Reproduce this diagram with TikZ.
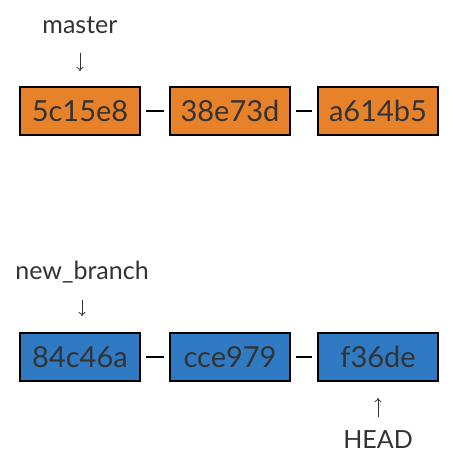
\documentclass[tikz,border=0pt]{standalone}
\usepackage{fontspec}
\setmainfont{Lato}
\usetikzlibrary{arrows.meta}
\definecolor{commitorange}{HTML}{E8822A}
\definecolor{commitblue}{HTML}{2F7AC3}
\definecolor{inktext}{HTML}{333333}
\begin{document}
\begin{tikzpicture}[x=1pt,y=-1pt,
  commit/.style={draw=black,line width=2pt,minimum width=120pt,minimum height=48pt,inner sep=0pt,text=inktext,font=\fontsize{29}{32}\selectfont},
  branchlbl/.style={inner sep=0pt,text=inktext,font=\fontsize{25}{28}\selectfont},
  link/.style={black,line width=2pt,shorten <=5pt,shorten >=5pt},
  pointer/.style={inktext,line width=0.8pt,-{To[length=4pt,width=7pt]}}]
\useasboundingbox (0,0) rectangle (452,462);
% master branch
\node [commit,fill=commitorange] (m1) at (80,111) {5c15e8};
\node [commit,fill=commitorange] (m2) at (230,111) {38e73d};
\node [commit,fill=commitorange] (m3) at (378,111) {a614b5};
\draw [link] (m1) -- (m2);
\draw [link] (m2) -- (m3);
\node [branchlbl] (master) at (80,25) {master};
\draw [pointer,shorten <=28pt,shorten >=15pt] (master.center) -- (m1);
% new branch
\node [commit,fill=commitblue] (n1) at (80,357) {84c46a};
\node [commit,fill=commitblue] (n2) at (230,357) {cce979};
\node [commit,fill=commitblue] (n3) at (378,357) {f36de};
\draw [link] (n1) -- (n2);
\draw [link] (n2) -- (n3);
\node [branchlbl] (newbranch) at (82,272) {new\_branch};
\draw [pointer,shorten <=28pt,shorten >=16pt] (newbranch.center) -- (n1.north -| newbranch);
\node [branchlbl] (head) at (378,440) {HEAD};
\draw [pointer,shorten <=23pt,shorten >=16pt] (head.center) -- (n3);
\end{tikzpicture}
\end{document}
